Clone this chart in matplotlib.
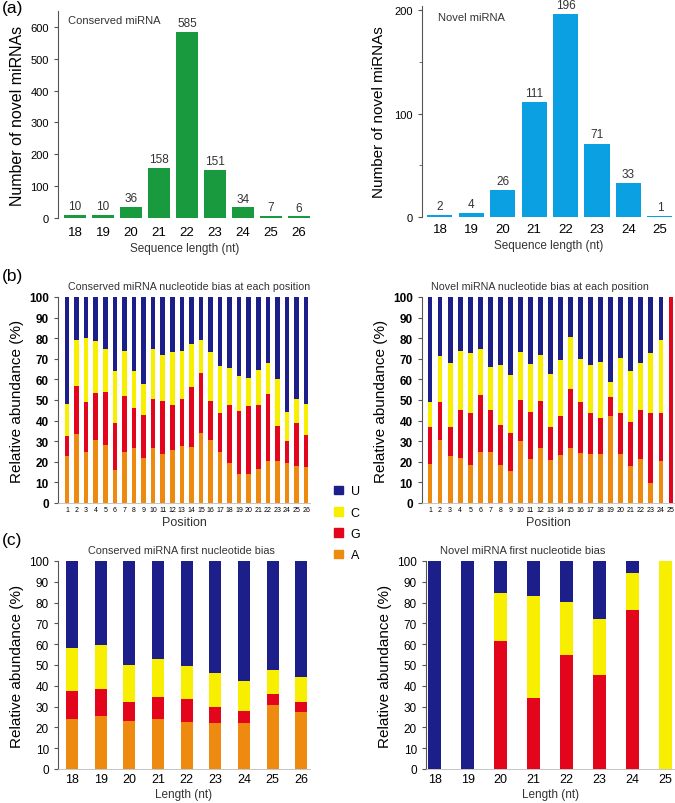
import matplotlib.pyplot as plt
import numpy as np

W, H = 675, 804

# ---- panel (a) data ----
cons_len = [18, 19, 20, 21, 22, 23, 24, 25, 26]
cons_count = [10, 10, 36, 158, 585, 151, 34, 7, 6]
novel_len = [18, 19, 20, 21, 22, 23, 24, 25]
novel_count = [2, 4, 26, 111, 196, 71, 33, 1]

# ---- panel (b) data: cumulative tops (A, A+G, A+G+C), U fills to 100 ----
cons_pos = list(range(1, 27))
cons_b_A = [23, 33.5, 25, 30.5, 28, 16, 25, 26.5, 22, 26.5, 24, 25.5, 27.5,
            27, 34, 30.5, 25, 19.5, 14, 14, 16.5, 20.5, 20.5, 19.5, 18, 17.5]
cons_b_AG = [32.5, 57, 49, 53.5, 54, 39, 52, 46, 42.5, 50.5, 49.5, 47.5, 50.5,
             56.5, 63, 49.5, 43.5, 47.5, 44.5, 47, 47.5, 53, 37.5, 30, 39, 33]
cons_b_AGC = [48, 79, 80, 78.5, 75, 64, 74, 64, 58, 75, 72, 73.5, 74,
              77, 79, 73.5, 66.5, 65.5, 61.5, 60.5, 64.5, 68, 60, 44, 50.5, 48]

novel_pos = list(range(1, 26))
novel_b_A = [19, 30.5, 23, 22, 18.5, 25, 25, 18.5, 15.5, 30, 21.5, 26.5, 21,
             23.5, 26.5, 24.5, 24, 24, 42, 24, 18, 21.5, 9.5, 20.5, 0]
novel_b_AG = [37, 49, 37, 45, 43.5, 52.5, 45, 38, 34, 50, 44, 49.5, 37,
              42, 55.5, 49, 43.5, 41.5, 51.5, 43.5, 39.5, 45, 43.5, 43.5, 100]
novel_b_AGC = [49, 71.5, 68, 74, 73, 75, 66, 67, 62, 73.5, 67.5, 72, 62.5,
               69.5, 80.5, 70, 67, 68.5, 58.5, 70.5, 64, 68, 73, 79, 100]

# ---- panel (c) data ----
cons_c_A = [24, 25.5, 23, 24, 22.5, 22, 22, 31, 27.5]
cons_c_AG = [37.5, 38.5, 32, 34.5, 33.5, 30, 28, 36, 32]
cons_c_AGC = [58, 59.5, 50, 53, 49.5, 46, 42.5, 47.5, 44]
novel_c_A = [0, 0, 0, 0, 0, 0, 0, 0]
novel_c_AG = [0, 0, 61.5, 34, 55, 45, 76.5, 0]
novel_c_AGC = [0, 0, 84.5, 83, 80.5, 72, 94, 100]

nuc_labels = ['U', 'C', 'G', 'A']
nuc_colors = ['#1c1f8a', '#f7ee00', '#e3051b', '#ee8a0f']

plt.rcParams['font.family'] = ['Liberation Sans', 'DejaVu Sans']

fig = plt.figure(figsize=(W / 100, H / 100), dpi=100)


def add_ax(left, top, right, bottom):
    return fig.add_axes([left / W, 1 - bottom / H, (right - left) / W, (bottom - top) / H])


def style(ax, bottom_line=False):
    for s in ['top', 'right']:
        ax.spines[s].set_visible(False)
    ax.spines['left'].set_color('#555555')
    if bottom_line:
        ax.spines['bottom'].set_color('#bbbbbb')
        ax.spines['bottom'].set_linewidth(0.6)
    else:
        ax.spines['bottom'].set_visible(False)
    ax.tick_params(axis='y', color='#555555', length=3, width=0.8)
    ax.tick_params(axis='x', length=0)


def stacked(ax, x, a, ag, agc, width, tick_fs):
    a = np.array(a); ag = np.array(ag); agc = np.array(agc)
    ax.bar(x, a, width, color=nuc_colors[3])
    ax.bar(x, ag - a, width, bottom=a, color=nuc_colors[2])
    ax.bar(x, agc - ag, width, bottom=ag, color=nuc_colors[1])
    ax.bar(x, 100 - agc, width, bottom=agc, color=nuc_colors[0])
    ax.set_ylim(0, 100)
    ax.set_yticks(range(0, 101, 10))
    ax.tick_params(axis='y', labelsize=tick_fs)


# (a) conserved counts
ax1 = add_ax(58, 12, 312, 219)
ax1.bar(cons_len, cons_count, 0.8, color='#1a9a3e')
for x, v in zip(cons_len, cons_count):
    ax1.text(x, v + 8, str(v), ha='center', va='bottom', fontsize=8.5, color='#333333')
ax1.set_xlim(17.39, 26.47)
ax1.set_ylim(0, 650)
ax1.set_yticks(range(0, 601, 100))
ax1.set_xticks(cons_len)
style(ax1)
ax1.tick_params(axis='y', labelsize=8)
ax1.tick_params(axis='x', labelsize=9.5, pad=6)
ax1.set_xlabel('Sequence length (nt)', fontsize=8.5, color='#333333', labelpad=3)
ax1.set_ylabel('Number of novel miRNAs', fontsize=11.5, labelpad=4)
ax1.text(0.04, 0.98, 'Conserved miRNA', transform=ax1.transAxes, fontsize=8, va='top', color='#333333')

# (a) novel counts
ax2 = add_ax(422, 7, 675, 218)
ax2.bar(novel_len, novel_count, 0.8, color='#0ba0e2')
for x, v in zip(novel_len, novel_count):
    ax2.text(x, v + 3, str(v), ha='center', va='bottom', fontsize=8.5, color='#333333')
ax2.set_xlim(17.43, 25.48)
ax2.set_ylim(0, 204)
ax2.set_yticks([0, 100, 200])
ax2.set_yticks([50, 150], minor=True)
ax2.set_xticks(novel_len)
style(ax2)
ax2.tick_params(axis='y', which='minor', color='#555555', length=2)
ax2.tick_params(axis='y', labelsize=8)
ax2.tick_params(axis='x', labelsize=9.5, pad=4)
ax2.set_xlabel('Sequence length (nt)', fontsize=8.5, color='#333333', labelpad=3)
ax2.set_ylabel('Number of novel miRNAs', fontsize=11, labelpad=6)
ax2.text(0.065, 0.97, 'Novel miRNA', transform=ax2.transAxes, fontsize=8, va='top', color='#333333')

# (b) conserved positions
ax3 = add_ax(58, 298, 310, 504)
stacked(ax3, cons_pos, cons_b_A, cons_b_AG, cons_b_AGC, 0.48, 8.5)
ax3.set_xlim(0.06, 26.4)
ax3.set_xticks(cons_pos)
style(ax3, bottom_line=True)
for lbl in ax3.get_yticklabels():
    lbl.set_fontweight('bold')
ax3.tick_params(axis='x', labelsize=5, pad=2)
ax3.set_xlabel('Position', fontsize=9, color='#333333', labelpad=2)
ax3.set_ylabel('Relative abundance (%)', fontsize=11, labelpad=4)
ax3.set_title('Conserved miRNA nucleotide bias at each position', fontsize=7.7, pad=6,
              color='#333333', x=0.52)

# (b) novel positions
ax4 = add_ax(422, 298, 675, 504)
stacked(ax4, novel_pos, novel_b_A, novel_b_AG, novel_b_AGC, 0.48, 8.5)
ax4.set_xlim(0.2, 25.4)
ax4.set_xticks(novel_pos)
style(ax4, bottom_line=True)
for lbl in ax4.get_yticklabels():
    lbl.set_fontweight('bold')
ax4.tick_params(axis='x', labelsize=5, pad=2)
ax4.set_xlabel('Position', fontsize=9, color='#333333', labelpad=2)
ax4.set_ylabel('Relative abundance (%)', fontsize=11, labelpad=4)
ax4.set_title('Novel miRNA nucleotide bias at each position', fontsize=7.7, pad=6,
              color='#333333', x=0.466)

# (c) conserved first nucleotide
ax5 = add_ax(58, 562, 310, 770)
stacked(ax5, cons_len, cons_c_A, cons_c_AG, cons_c_AGC, 0.42, 8.5)
ax5.set_xlim(17.51, 26.3)
ax5.set_xticks(cons_len)
style(ax5, bottom_line=True)
ax5.tick_params(axis='x', labelsize=9, pad=3)
ax5.set_xlabel('Length (nt)', fontsize=8.5, color='#333333', labelpad=2)
ax5.set_ylabel('Relative abundance (%)', fontsize=11, labelpad=4)
ax5.set_title('Conserved miRNA first nucleotide bias', fontsize=7.8, pad=6,
              color='#333333', x=0.49)

# (c) novel first nucleotide
ax6 = add_ax(426, 562, 675, 770)
stacked(ax6, novel_len, novel_c_A, novel_c_AG, novel_c_AGC, 0.4, 8.5)
ax6.set_xlim(17.73, 25.3)
ax6.set_xticks(novel_len)
style(ax6, bottom_line=True)
ax6.tick_params(axis='x', labelsize=9, pad=3)
ax6.set_xlabel('Length (nt)', fontsize=8.5, color='#333333', labelpad=2)
ax6.set_ylabel('Relative abundance (%)', fontsize=11, labelpad=4)
ax6.set_title('Novel miRNA first nucleotide bias', fontsize=8, pad=6,
              color='#333333', x=0.39)

# legend between panels
handles = [plt.Rectangle((0, 0), 1, 1, color=c) for c in nuc_colors]
fig.legend(handles, nuc_labels, loc='upper left', bbox_to_anchor=(328 / W, 1 - 480 / H),
           frameon=False, fontsize=9, handlelength=0.7, handleheight=0.7,
           labelspacing=0.75, handletextpad=0.6, borderpad=0)

# panel letters
for lab, y in [('(a)', 9), ('(b)', 276), ('(c)', 540)]:
    fig.text(2 / W, 1 - y / H, lab, fontsize=12.5, va='center', ha='left')

fig.savefig('out.png', dpi=100)
